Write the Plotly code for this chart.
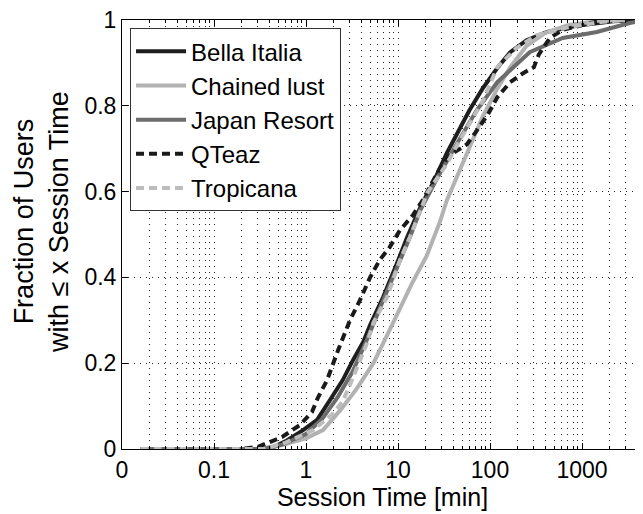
import plotly.graph_objects as go

# ---- data ----
bella_x = [0.016, 0.3, 0.45, 0.62, 0.93, 1.32, 1.82, 2.5, 3.24, 4.2, 5.0, 6.9, 9.8, 12.6, 17.5, 24, 34, 45, 60, 83, 120, 166, 250, 417, 955, 2200, 4000]
bella_y = [0, 0, 0.005, 0.02, 0.044, 0.068, 0.114, 0.16, 0.207, 0.25, 0.29, 0.354, 0.434, 0.494, 0.564, 0.62, 0.69, 0.74, 0.79, 0.84, 0.888, 0.925, 0.953, 0.972, 0.988, 0.997, 1.0]

chained_x = [0.016, 0.35, 0.56, 1.0, 1.53, 2.35, 3.55, 5.4, 7.6, 10.5, 14.5, 20.5, 28.6, 34, 43.5, 60, 83, 120, 166, 250, 400, 700, 1500, 3000]
chained_y = [0, 0, 0.01, 0.025, 0.044, 0.09, 0.14, 0.2, 0.265, 0.33, 0.39, 0.45, 0.53, 0.58, 0.634, 0.704, 0.774, 0.84, 0.89, 0.94, 0.97, 0.988, 0.998, 1.0]

japan_x = [0.016, 0.35, 0.55, 1.0, 1.5, 2.2, 3.2, 4.5, 6.9, 9.8, 13.5, 17.5, 26, 44, 72, 120, 270, 617, 1450, 3300, 5000]
japan_y = [0, 0, 0.01, 0.035, 0.07, 0.12, 0.18, 0.25, 0.347, 0.424, 0.494, 0.557, 0.627, 0.713, 0.79, 0.855, 0.925, 0.958, 0.972, 0.993, 1.0]

qteaz_x = [0.016, 0.2, 0.3, 0.55, 0.86, 1.16, 1.35, 1.69, 2.23, 2.6, 3.0, 3.86, 4.97, 6.3, 8.1, 10.5, 14.5, 18.6, 22.2, 28.6, 36.7, 56, 69, 95, 120, 166, 229, 300, 340, 380, 447, 617, 1020, 1700]
qteaz_y = [0, 0, 0.005, 0.028, 0.056, 0.086, 0.12, 0.16, 0.23, 0.265, 0.3, 0.347, 0.4, 0.44, 0.47, 0.51, 0.545, 0.58, 0.61, 0.655, 0.685, 0.71, 0.737, 0.78, 0.82, 0.855, 0.876, 0.89, 0.92, 0.935, 0.958, 0.977, 0.988, 1.0]

trop_x = [0.016, 0.35, 0.6, 1.2, 1.9, 2.5, 3.4, 4.6, 5.4, 7.6, 10.5, 13.5, 20.8, 34, 47, 65, 83, 120, 195, 324, 740, 1700, 3000]
trop_y = [0, 0, 0.015, 0.044, 0.08, 0.11, 0.177, 0.247, 0.294, 0.354, 0.44, 0.494, 0.597, 0.665, 0.72, 0.774, 0.81, 0.89, 0.935, 0.965, 0.984, 0.996, 1.0]

x_tickvals = [0.01, 0.1, 1, 10, 100, 1000]
x_ticktext = ["0", "0.1", "1", "10", "100", "1000"]
y_tickvals = [0, 0.2, 0.4, 0.6, 0.8, 1]
y_ticktext = ["0", "0.2", "0.4", "0.6", "0.8", "1"]

series = [
    ("Bella Italia", bella_x, bella_y, "#1e1e1e", "solid"),
    ("Chained lust", chained_x, chained_y, "#b2b2b2", "solid"),
    ("Japan Resort", japan_x, japan_y, "#6c6c6c", "solid"),
    ("QTeaz", qteaz_x, qteaz_y, "#1a1a1a", "8px,5px"),
    ("Tropicana", trop_x, trop_y, "#bdbdbd", "8px,5px"),
]

fig = go.Figure()
for name, xs, ys, col, dash in series:
    fig.add_trace(go.Scatter(x=xs, y=ys, mode="lines", name=name,
                             line=dict(color=col, width=4, dash=dash)))

minor_vals = [m * 10 ** k for k in range(-2, 4) for m in range(2, 10)]
font = "Liberation Sans, Arial, Helvetica, sans-serif"
gridc = "#222222"
gdash = "1px,5px"

# page body has an 8px default margin, so the figure is sized/margined to compensate
fig.update_layout(
    width=635, height=506,
    margin=dict(l=114, r=0, t=12, b=65, autoexpand=False),
    plot_bgcolor="white", paper_bgcolor="white",
    font=dict(family=font, size=22, color="black"),
    showlegend=True,
    legend=dict(x=0.0154, y=0.981, xanchor="left", yanchor="top",
                bgcolor="white", bordercolor="#333333", borderwidth=1,
                font=dict(size=24, family=font, color="black"),
                tracegroupgap=0, itemwidth=50),
    xaxis=dict(type="log", range=[-2, 3.663], automargin=False,
               tickmode="array", tickvals=x_tickvals, ticktext=x_ticktext,
               ticks="inside", ticklen=6, tickcolor="black",
               showline=True, linecolor="black", linewidth=1, mirror="ticks",
               showgrid=True, gridcolor=gridc, griddash=gdash, gridwidth=1,
               zeroline=False, tickfont=dict(size=23), ticklabeloverflow="allow",
               title=dict(text="Session Time [min]", standoff=0, font=dict(size=25)),
               minor=dict(tickmode="array", tickvals=minor_vals, ticks="inside", ticklen=3,
                          tickcolor="black", showgrid=True, gridcolor=gridc,
                          griddash=gdash, gridwidth=1)),
    yaxis=dict(range=[0, 1], automargin=False,
               tickmode="array", tickvals=y_tickvals, ticktext=y_ticktext,
               ticks="inside", ticklen=6, tickcolor="black",
               showline=True, linecolor="black", linewidth=1,
               showgrid=True, gridcolor=gridc, griddash=gdash, gridwidth=1,
               zeroline=False, tickfont=dict(size=23), ticklabeloverflow="allow"),
    annotations=[dict(text="Fraction of Users<br>with \u2264 x Session Time",
                      xref="paper", yref="paper", x=-0.1555, y=0.529,
                      xanchor="center", yanchor="middle", textangle=-90,
                      showarrow=False, font=dict(size=27, family=font, color="black"))],
)

fig.write_html("out.html")
